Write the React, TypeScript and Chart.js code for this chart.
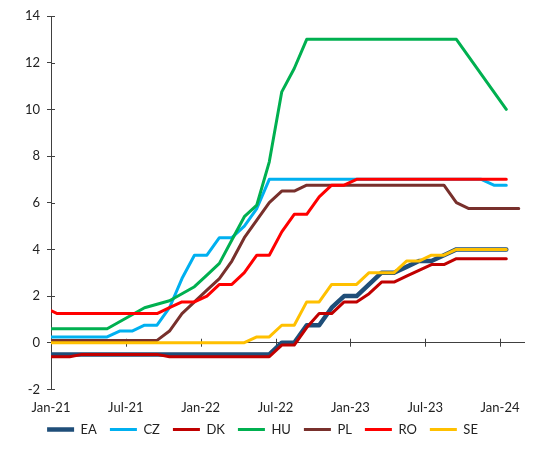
import React, { useEffect, useRef } from "react";
import { Chart, registerables } from "chart.js";

Chart.register(...registerables);

// Month labels: Dec-20 ... Feb-24 (end-of-month policy rates)
const months = [
  "Dec-20",
  "Jan-21", "Feb-21", "Mar-21", "Apr-21", "May-21", "Jun-21", "Jul-21", "Aug-21", "Sep-21", "Oct-21", "Nov-21", "Dec-21",
  "Jan-22", "Feb-22", "Mar-22", "Apr-22", "May-22", "Jun-22", "Jul-22", "Aug-22", "Sep-22", "Oct-22", "Nov-22", "Dec-22",
  "Jan-23", "Feb-23", "Mar-23", "Apr-23", "May-23", "Jun-23", "Jul-23", "Aug-23", "Sep-23", "Oct-23", "Nov-23", "Dec-23",
  "Jan-24", "Feb-24",
];

const xTickLabels = ["Jan-21", "Jul-21", "Jan-22", "Jul-22", "Jan-23", "Jul-23", "Jan-24"];
const yTickValues = [-2, 0, 2, 4, 6, 8, 10, 12, 14];

const EA = [
  -0.5,
  -0.5, -0.5, -0.5, -0.5, -0.5, -0.5, -0.5, -0.5, -0.5, -0.5, -0.5, -0.5,
  -0.5, -0.5, -0.5, -0.5, -0.5, -0.5, 0, 0, 0.75, 0.75, 1.5, 2.0,
  2.0, 2.5, 3.0, 3.0, 3.25, 3.5, 3.5, 3.75, 4.0, 4.0, 4.0, 4.0,
  4.0, null,
];
const CZ = [
  0.25,
  0.25, 0.25, 0.25, 0.25, 0.25, 0.5, 0.5, 0.75, 0.75, 1.5, 2.75, 3.75,
  3.75, 4.5, 4.5, 5.0, 5.75, 7.0, 7.0, 7.0, 7.0, 7.0, 7.0, 7.0,
  7.0, 7.0, 7.0, 7.0, 7.0, 7.0, 7.0, 7.0, 7.0, 7.0, 7.0, 6.75,
  6.75, null,
];
const DK = [
  -0.6,
  -0.6, -0.6, -0.5, -0.5, -0.5, -0.5, -0.5, -0.5, -0.5, -0.6, -0.6, -0.6,
  -0.6, -0.6, -0.6, -0.6, -0.6, -0.6, -0.1, -0.1, 0.65, 1.25, 1.25, 1.75,
  1.75, 2.1, 2.6, 2.6, 2.85, 3.1, 3.35, 3.35, 3.6, 3.6, 3.6, 3.6,
  3.6, null,
];
const HU = [
  0.6,
  0.6, 0.6, 0.6, 0.6, 0.6, 0.9, 1.2, 1.5, 1.65, 1.8, 2.1, 2.4,
  2.9, 3.4, 4.4, 5.4, 5.9, 7.75, 10.75, 11.75, 13.0, 13.0, 13.0, 13.0,
  13.0, 13.0, 13.0, 13.0, 13.0, 13.0, 13.0, 13.0, 13.0, 12.25, 11.5, 10.75,
  10.0, null,
];
const PL = [
  0.1,
  0.1, 0.1, 0.1, 0.1, 0.1, 0.1, 0.1, 0.1, 0.1, 0.5, 1.25, 1.75,
  2.25, 2.75, 3.5, 4.5, 5.25, 6.0, 6.5, 6.5, 6.75, 6.75, 6.75, 6.75,
  6.75, 6.75, 6.75, 6.75, 6.75, 6.75, 6.75, 6.75, 6.0, 5.75, 5.75, 5.75,
  5.75, 5.75,
];
const RO = [
  1.5,
  1.25, 1.25, 1.25, 1.25, 1.25, 1.25, 1.25, 1.25, 1.25, 1.5, 1.75, 1.75,
  2.0, 2.5, 2.5, 3.0, 3.75, 3.75, 4.75, 5.5, 5.5, 6.25, 6.75, 6.75,
  7.0, 7.0, 7.0, 7.0, 7.0, 7.0, 7.0, 7.0, 7.0, 7.0, 7.0, 7.0,
  7.0, null,
];
const SE = [
  0,
  0, 0, 0, 0, 0, 0, 0, 0, 0, 0, 0, 0,
  0, 0, 0, 0, 0.25, 0.25, 0.75, 0.75, 1.75, 1.75, 2.5, 2.5,
  2.5, 3.0, 3.0, 3.0, 3.5, 3.5, 3.75, 3.75, 4.0, 4.0, 4.0, 4.0,
  4.0, null,
];

const seriesNames = ["EA", "CZ", "DK", "HU", "PL", "RO", "SE"];
const seriesValues = [EA, CZ, DK, HU, PL, RO, SE];
const seriesColors = ["#1F4E79", "#00B0F0", "#C00000", "#00B050", "#78302C", "#FF0000", "#FFC000"];
const seriesWidths = [4.5, 3, 3, 3, 3, 3, 3];

const FONT = "Lato, 'Liberation Sans', sans-serif";
const AXIS = "#404040";

const crossTicks = {
  id: "crossTicks",
  beforeDatasetsDraw(chart: any) {
    const { ctx, chartArea } = chart;
    const x = chart.scales.x;
    const y = chart.scales.y;
    const y0 = y.getPixelForValue(0);
    ctx.save();
    ctx.strokeStyle = AXIS;
    ctx.lineWidth = 1;
    ctx.beginPath();
    x.ticks.forEach((t: any) => {
      const px = Math.round(x.getPixelForValue(t.value)) + 0.5;
      ctx.moveTo(px, y0 - 4);
      ctx.lineTo(px, y0 + 4);
    });
    y.ticks.forEach((t: any) => {
      const py = Math.round(y.getPixelForValue(t.value)) + 0.5;
      ctx.moveTo(chartArea.left, py);
      ctx.lineTo(chartArea.left + 4, py);
    });
    ctx.stroke();
    ctx.restore();
  },
};

export default function App() {
  const canvasRef = useRef<HTMLCanvasElement | null>(null);

  useEffect(() => {
    document.body.style.margin = "0";
    const canvas = canvasRef.current;
    if (!canvas) return;
    const n = seriesNames.length;
    const datasets = seriesNames.map((name, k) => ({
      label: name,
      data: months.map((_, i) => ({ x: i - 0.5, y: seriesValues[k][i] })),
      borderColor: seriesColors[k],
      backgroundColor: seriesColors[k],
      borderWidth: seriesWidths[k],
      borderJoinStyle: "round" as const,
      borderCapStyle: "round" as const,
      pointRadius: 0,
      pointHoverRadius: 0,
      tension: 0,
      fill: false,
      order: n - k,
    }));

    const chart = new Chart(canvas, {
      type: "line",
      data: { datasets },
      plugins: [crossTicks],
      options: {
        animation: false,
        responsive: true,
        maintainAspectRatio: false,
        layout: { padding: { left: 0, right: 23, top: 16, bottom: 4 } },
        plugins: {
          tooltip: { enabled: false },
          legend: {
            position: "bottom",
            labels: {
              usePointStyle: true,
              pointStyle: "line",
              pointStyleWidth: 27,
              padding: 13,
              color: "#222222",
              font: { family: FONT, size: 13 },
              sort: (a: any, b: any) => a.datasetIndex - b.datasetIndex,
            },
          },
        },
        scales: {
          x: {
            type: "linear",
            min: 0,
            max: 38,
            afterBuildTicks: (scale: any) => {
              scale.ticks = xTickLabels.map((_, k) => ({ value: k * 6 }));
            },
            afterFit: (scale: any) => {
              scale.height = scale.height - 17;
              scale._computeLabelArea = () => undefined;
            },
            ticks: {
              autoSkip: false,
              maxRotation: 0,
              padding: 11,
              color: "#222222",
              font: { family: FONT, size: 13 },
              callback: (v: any) => xTickLabels[Math.round(Number(v) / 6)] ?? "",
            },
            grid: { display: false, drawTicks: false },
            border: { display: false },
          },
          y: {
            min: -2,
            max: 14,
            afterBuildTicks: (scale: any) => {
              scale.ticks = yTickValues.map((v) => ({ value: v }));
            },
            afterFit: (scale: any) => {
              scale.width = 51;
            },
            ticks: {
              padding: 7,
              color: "#222222",
              font: { family: FONT, size: 13 },
            },
            grid: {
              color: (c: any) => (c.tick && c.tick.value === 0 ? AXIS : "rgba(0,0,0,0)"),
              tickColor: AXIS,
              tickLength: 4,
              lineWidth: 1,
            },
            border: { display: true, color: AXIS, width: 1 },
          },
        },
      },
    });
    return () => chart.destroy();
  }, []);

  return (
    <div style={{ width: 548, height: 450, position: "relative" }}>
      <canvas ref={canvasRef} />
    </div>
  );
}
